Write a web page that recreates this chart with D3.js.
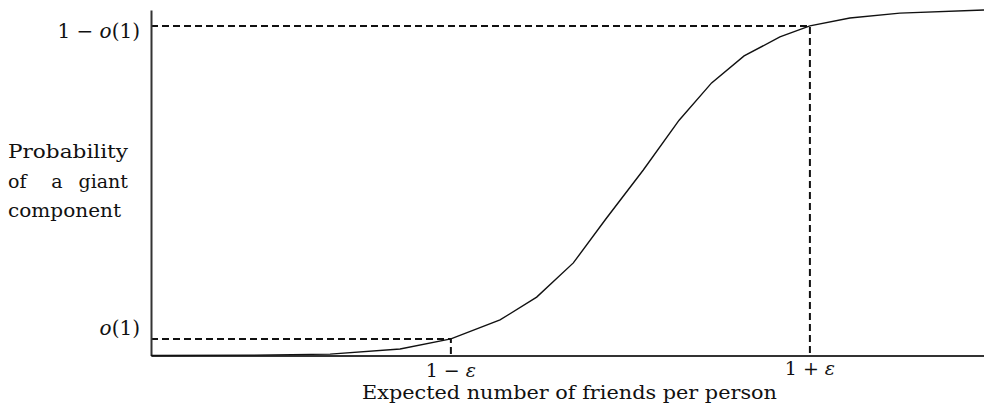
<!DOCTYPE html>
<html>
<head>
<meta charset="utf-8">
<script src="https://cdn.jsdelivr.net/npm/d3@7"></script>
<style>
  body { margin: 0; background: #fff; }
  svg text { font-family: "DejaVu Serif", "Liberation Serif", serif; fill: #111; }
</style>
</head>
<body>
<script>
// curve points (x in arbitrary units, y as probability)
var curveX = [0, 1.19, 2.15, 2.99, 3.60, 4.19, 4.63, 5.07, 5.46, 5.91, 6.34, 6.73, 7.12, 7.55, 7.91, 8.39, 8.99, 10];
var curveY = [0, 0.001, 0.004, 0.019, 0.048, 0.103, 0.169, 0.268, 0.395, 0.537, 0.681, 0.789, 0.867, 0.922, 0.954, 0.977, 0.991, 1.0];

// the two marked thresholds
var xMarks = [3.60, 7.91];
var xMarkLabels = [["1 − ", "ε"], ["1 + ", "ε"]];
var yMarks = [0.048, 0.954];
var yMarkLabels = [["", "o", "(1)"], ["1 − ", "o", "(1)"]];

var totalWidth = 984;
var totalHeight = 404;
var margin = {top: 10, left: 151, bottom: 48.5, right: 0};

var svg = d3.select("body")
    .append("svg")
    .attr("width", totalWidth)
    .attr("height", totalHeight);

var xScale = d3.scaleLinear()
    .domain([0, 10])
    .range([margin.left, totalWidth - margin.right]);

var yScale = d3.scaleLinear()
    .domain([0, 1])
    .range([totalHeight - margin.bottom, margin.top]);

var pts = curveX.map(function(x, i) { return [x, curveY[i]]; });

// dashed guides
xMarks.forEach(function(xv, i) {
  var yv = yMarks[i];
  svg.append("path")
    .attr("d", "M" + xScale(0) + "," + yScale(yv) + "H" + xScale(xv) + "V" + yScale(0))
    .attr("fill", "none")
    .attr("stroke", "#111")
    .attr("stroke-width", 2)
    .attr("stroke-dasharray", "7,4");
});

// axes, just bare lines
var xAxisg = svg.append("g")
    .attr("transform", "translate(0," + yScale(0) + ")")
    .call(d3.axisBottom(xScale).tickValues([]).tickSizeOuter(0));
var yAxisg = svg.append("g")
    .attr("transform", "translate(" + xScale(0) + ",0)")
    .call(d3.axisLeft(yScale).tickValues([]).tickSizeOuter(0));
svg.selectAll(".domain").attr("stroke", "#333").attr("stroke-width", 2);

// the curve
svg.append("path")
    .datum(pts)
    .attr("fill", "none")
    .attr("stroke", "#111")
    .attr("stroke-width", 1.4)
    .attr("d", d3.line()
      .x(function(d) { return xScale(d[0]); })
      .y(function(d) { return yScale(d[1]); }));

// y labels
var yLabelDy = [-4, 12];
yMarks.forEach(function(yv, i) {
  var t = svg.append("text")
    .attr("x", xScale(0) - 11)
    .attr("y", yScale(yv) + yLabelDy[i])
    .attr("text-anchor", "end")
    .attr("font-size", 20);
  yMarkLabels[i].forEach(function(part, j) {
    t.append("tspan").text(part).attr("font-style", j === 1 ? "italic" : "normal");
  });
});

// x labels
var xLabelY = [377, 375];
xMarks.forEach(function(xv, i) {
  var t = svg.append("text")
    .attr("x", xScale(xv))
    .attr("y", xLabelY[i])
    .attr("text-anchor", "middle")
    .attr("font-size", 19);
  xMarkLabels[i].forEach(function(part, j) {
    t.append("tspan").text(part).attr("font-style", j === 1 ? "italic" : "normal");
  });
});

// axis titles
svg.append("text")
  .attr("x", 362)
  .attr("y", 399)
  .attr("font-size", 19)
  .attr("textLength", 415)
  .attr("lengthAdjust", "spacingAndGlyphs")
  .text("Expected number of friends per person");

svg.append("text")
  .attr("x", 8).attr("y", 158)
  .attr("font-size", 19)
  .attr("textLength", 120)
  .attr("lengthAdjust", "spacingAndGlyphs")
  .text("Probability");

// justified middle line: one word at each edge, one in the middle
var midWords = ["of", "a", "giant"];
var midX = [8, 57, 128];
var midAnchor = ["start", "middle", "end"];
midWords.forEach(function(w, i) {
  svg.append("text")
    .attr("x", midX[i]).attr("y", 187.5)
    .attr("font-size", 19)
    .attr("text-anchor", midAnchor[i])
    .text(w);
});

svg.append("text")
  .attr("x", 8).attr("y", 217)
  .attr("font-size", 19)
  .attr("textLength", 113)
  .attr("lengthAdjust", "spacingAndGlyphs")
  .text("component");
</script>
</body>
</html>
